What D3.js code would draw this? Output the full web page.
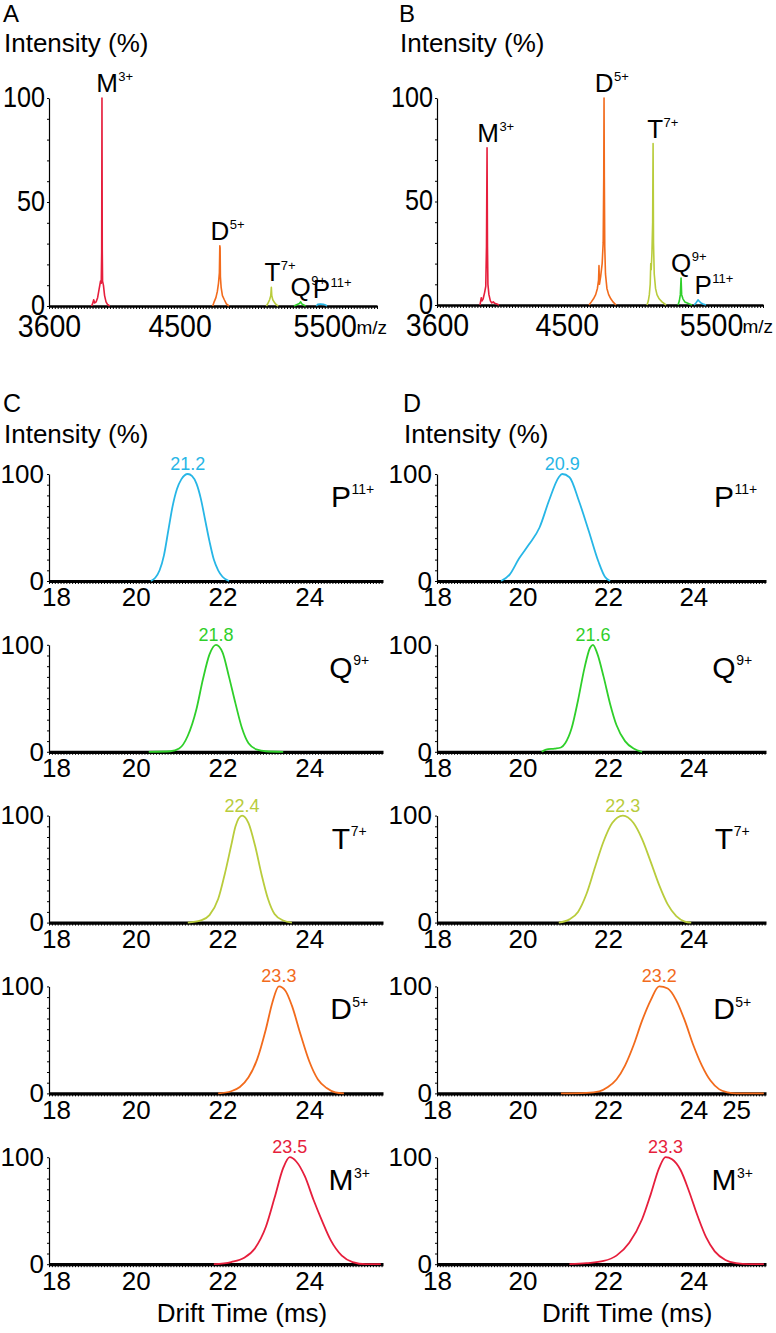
<!DOCTYPE html>
<html>
<head>
<meta charset="utf-8">
<script src="https://cdn.jsdelivr.net/npm/d3@7"></script>
<style>
body { margin: 0; background: #fff; }
text { font-family: "Liberation Sans", Arial, Helvetica, sans-serif; fill: #000; }
</style>
</head>
<body>
<script>
// ---- data ----
const mzTicks = [3600, 4500, 5500];
const mzIntTicks = [0, 50, 100];
const driftTicks = [18, 20, 22, 24];
const driftTicksWide = [18, 20, 22, 24, 25];
const driftIntTicks = [0, 100];

const species = ["M", "D", "T", "Q", "P"];
const charges = ["3+", "5+", "7+", "9+", "11+"];
const colors = ["#e61e3c", "#f26b1c", "#b9cc3c", "#2fcf2a", "#27b6e6"];

// panel A, mass spectrum [m/z, intensity %]
const msA_M = [[3893,0],[3900,1],[3908,3],[3915,1.5],[3925,2],[3935,4],[3945,8],[3955,12],[3960,11],[3963,26],[3965,100],[3967,27],[3969,12],[3975,10],[3983,5],[3993,2],[4003,0.8],[4018,0]];
const msA_D = [[4728,0],[4738,2],[4750,4],[4760,7],[4768,11],[4774,16],[4777,29],[4779,28],[4781,14],[4786,9],[4795,5],[4808,3],[4822,1],[4840,0]];
const msA_T = [[5098,0],[5110,1.5],[5120,3],[5128,5],[5132,9],[5135,5],[5142,3],[5155,1.5],[5168,0.5],[5180,0]];
const msA_Q = [[5288,0],[5310,0.7],[5325,1.2],[5334,2],[5342,1],[5355,0.5],[5368,0]];
const msA_P = [[5442,0],[5452,0.8],[5470,1],[5490,0.8],[5505,0.5],[5515,0]];

// panel B
const msB_M = [[3898,0],[3903,2],[3907,3.5],[3912,2],[3920,3],[3930,6],[3938,9],[3943,28],[3947,76],[3950,28],[3953,10],[3960,5],[3970,2],[3980,1],[3990,1.5],[4000,0.8],[4015,0.5],[4030,0]];
const msB_D = [[4654,0],[4670,1.5],[4685,3],[4700,5],[4712,8],[4720,12],[4723,19],[4726,10],[4735,14],[4745,20],[4752,30],[4756,62],[4758,100],[4760,62],[4763,28],[4768,15],[4778,8],[4790,5],[4805,3],[4820,1.5],[4841,0]];
const msB_T = [[5056,0],[5065,2],[5072,5],[5078,10],[5082,20],[5085,17],[5090,25],[5095,40],[5098,78],[5101,30],[5106,15],[5115,8],[5125,5],[5140,3],[5160,1.5],[5188,0]];
const msB_Q = [[5271,0],[5280,2],[5287,5],[5292,13],[5296,5],[5305,3],[5318,1.5],[5335,1],[5350,0.5],[5368,0]];
const msB_P = [[5382,0],[5395,1],[5405,2],[5410,2.5],[5418,1.8],[5430,1],[5445,0.5],[5465,0]];

// panel C, arrival time distributions [drift time ms, intensity %]
const driftC_P = [[20.35,0],[20.45,3],[20.55,10],[20.65,24],[20.75,47],[20.85,70],[20.95,86],[21.05,95],[21.2,100],[21.3,98],[21.4,91],[21.5,77],[21.6,57],[21.7,37],[21.8,20],[21.9,10],[22.0,4],[22.15,0]];
const driftC_Q = [[20.3,0],[20.8,0.5],[21.0,3],[21.2,15],[21.4,40],[21.55,68],[21.7,91],[21.85,100],[22.0,93],[22.15,70],[22.3,45],[22.45,22],[22.6,8],[22.8,2],[23.0,0.5],[23.4,0]];
const driftC_T = [[21.2,0],[21.5,2],[21.7,7],[21.9,22],[22.05,45],[22.2,72],[22.3,90],[22.45,100],[22.6,93],[22.75,72],[22.9,45],[23.05,22],[23.2,8],[23.4,2],[23.6,0]];
const driftC_D = [[21.9,0],[22.2,2],[22.4,6],[22.6,15],[22.8,32],[23.0,60],[23.15,85],[23.3,100],[23.45,96],[23.6,82],[23.8,55],[24.0,30],[24.2,13],[24.4,5],[24.6,1],[24.8,0]];
const driftC_M = [[21.8,0],[22.2,2],[22.5,6],[22.75,15],[23.0,35],[23.2,62],[23.4,90],[23.55,100],[23.7,96],[23.9,82],[24.1,60],[24.3,40],[24.5,22],[24.75,8],[25.0,2],[25.3,0],[25.65,0]];

// panel D
const driftD_P = [[19.5,0],[19.7,6],[19.92,21],[20.15,34],[20.4,50],[20.62,75],[20.85,97],[20.93,100],[21.1,97],[21.32,75],[21.55,47],[21.78,18],[21.93,4],[22.05,0]];
const driftD_Q = [[20.45,0],[20.55,2],[20.75,3],[20.9,4],[21.0,8],[21.15,22],[21.3,48],[21.45,78],[21.58,97],[21.65,100],[21.75,92],[21.9,70],[22.05,45],[22.2,25],[22.4,10],[22.6,3],[22.8,0]];
const driftD_T = [[20.85,0],[21.1,3],[21.3,10],[21.5,27],[21.7,52],[21.9,76],[22.1,93],[22.35,100],[22.6,93],[22.8,78],[23.0,57],[23.2,35],[23.4,17],[23.6,6],[23.8,1],[23.95,0]];
const driftD_D = [[20.9,0],[21.5,0.5],[21.8,2],[22.0,6],[22.2,13],[22.4,26],[22.6,45],[22.8,68],[23.0,87],[23.2,100],[23.4,98],[23.6,87],[23.8,68],[24.0,45],[24.2,26],[24.4,12],[24.6,4],[24.8,1],[25.0,0],[25.65,0]];
const driftD_M = [[21.1,0],[21.5,1],[21.9,3],[22.2,8],[22.5,20],[22.8,42],[23.0,65],[23.2,90],[23.35,100],[23.5,98],[23.7,88],[23.9,68],[24.1,45],[24.3,25],[24.5,12],[24.75,4],[25.0,1],[25.3,0],[25.65,0]];

const apexC = ["23.5", "23.3", "22.4", "21.8", "21.2"];
const apexD = ["23.3", "23.2", "22.3", "21.6", "20.9"];

// ---- drawing ----
const width = 776, height = 1333;
const svg = d3.select('body').append('svg')
    .attr('width', width)
    .attr('height', height)
    .attr('viewBox', [0, 0, width, height]);

const fmt = d3.format('d');

// the figure's numerals are narrow and tall: squeeze them sideways
function squeeze(sel, k) {
    sel.each(function () {
        const L = this.getComputedTextLength();
        d3.select(this).attr('textLength', L * k).attr('lengthAdjust', 'spacingAndGlyphs');
    });
}

function ionLabel(g, cx, baseline, letter, charge, big, small) {
    const t = g.append('text')
        .attr('x', cx).attr('y', baseline)
        .attr('text-anchor', 'middle')
        .style('font-size', big + 'px')
        .text(letter);
    const w = t.node().getComputedTextLength();
    g.append('text')
        .attr('x', cx + w / 2 + 0.5)
        .attr('y', baseline - big * 0.42)
        .style('font-size', small + 'px')
        .text(charge);
}

function spectrumPanel(opts) {
    const g = svg.append('g');
    const x = d3.scaleLinear().domain([3600, 5860]).range([opts.left, opts.right]);
    const y = d3.scaleLinear().domain([0, 100]).range([opts.bottom, opts.top]);

    g.append('text').attr('x', opts.tagX).attr('y', 22)
        .style('font-size', '24px').text(opts.tag);
    g.append('text').attr('x', opts.tagX + 1).attr('y', 52)
        .style('font-size', '26px').text('Intensity (%)');

    // y axis: minor ticks + labels
    const ya = g.append('g').attr('transform', `translate(${opts.left},0)`)
        .call(d3.axisLeft(y).tickValues(d3.range(0, 101, 10)).tickSize(2).tickSizeOuter(0).tickFormat(''));
    ya.select('.domain').attr('stroke-width', 1.2);
    const yl = g.append('g').attr('transform', `translate(${opts.left},0)`)
        .call(d3.axisLeft(y).tickValues(mzIntTicks).tickSize(0).tickPadding(4).tickFormat(fmt))
        .call(s => s.select('.domain').remove())
        .selectAll('text').style('font-size', '30px').attr('fill', '#000').attr('dy', '0.27em');
    squeeze(yl, 0.84);

    // x axis: thick baseline with dense minor ticks
    const xa = g.append('g').attr('transform', `translate(0,${opts.bottom})`)
        .call(d3.axisBottom(x).tickValues(d3.range(3600, 5861, 20)).tickSize(3).tickSizeOuter(0).tickFormat(''));
    xa.select('.domain').attr('stroke-width', 2.6);
    const xl = g.append('g').attr('transform', `translate(0,${opts.bottom})`)
        .call(d3.axisBottom(x).tickValues(mzTicks).tickSize(0).tickPadding(9).tickFormat(fmt))
        .call(s => s.select('.domain').remove())
        .selectAll('text').style('font-size', '31px').attr('fill', '#000');
    squeeze(xl, 0.92);
    g.append('text').attr('x', opts.right + 10).attr('y', opts.bottom + 28)
        .attr('text-anchor', 'end').style('font-size', '19px').text('m/z');

    const line = d3.line().x(d => x(d[0])).y(d => y(d[1]));
    opts.traces.forEach((tr, i) => {
        g.append('path').datum(tr)
            .attr('fill', 'none')
            .attr('stroke', colors[i])
            .attr('stroke-width', 1.6)
            .attr('stroke-linejoin', 'round')
            .attr('d', line);
        const apex = tr.reduce((a, b) => (b[1] > a[1] ? b : a));
        const base = Math.min(y(apex[1]) - 6, opts.bottom - 8);
        ionLabel(g, x(apex[0]) + (opts.shift[i] || 0), base, species[i], charges[i], 26, 13);
    });
}

spectrumPanel({
    tag: 'A', tagX: 3, left: 49, right: 377, top: 98, bottom: 306,
    traces: [msA_M, msA_D, msA_T, msA_Q, msA_P],
    shift: [5, 0, 1, 0, 1]
});
spectrumPanel({
    tag: 'B', tagX: 399, left: 437, right: 763, top: 98, bottom: 305,
    traces: [msB_M, msB_D, msB_T, msB_Q, msB_P],
    shift: [1, 0, 2, 0, 5]
});

// drift time columns; rows top to bottom P, Q, T, D, M
const rowOrder = [4, 3, 2, 1, 0];

function driftColumn(opts) {
    const g = svg.append('g');
    g.append('text').attr('x', opts.tagX).attr('y', 412)
        .style('font-size', '25px').text(opts.tag);
    g.append('text').attr('x', opts.tagX + 1).attr('y', 443)
        .style('font-size', '26px').text('Intensity (%)');

    const x = d3.scaleLinear().domain([18, 25.7]).range([opts.left, opts.right]);
    const line = d3.line().x(d => x(d[0])).y(d => d[1]).curve(d3.curveMonotoneX);

    rowOrder.forEach((sp, r) => {
        const top = 474 + r * 170.8;
        const bottom = top + 107;
        const y = d3.scaleLinear().domain([0, 100]).range([bottom, top]);
        const row = g.append('g');

        const ya = row.append('g').attr('transform', `translate(${opts.left},0)`)
            .call(d3.axisLeft(y).tickValues(d3.range(0, 101, 10)).tickSize(2).tickSizeOuter(0).tickFormat(''));
        ya.select('.domain').attr('stroke-width', 1.2);
        row.append('g').attr('transform', `translate(${opts.left},0)`)
            .call(d3.axisLeft(y).tickValues(driftIntTicks).tickSize(0).tickPadding(5))
            .call(s => s.select('.domain').remove())
            .selectAll('text').style('font-size', '26px').attr('fill', '#000');

        const xa = row.append('g').attr('transform', `translate(0,${bottom})`)
            .call(d3.axisBottom(x).tickValues(d3.range(0, 116).map(k => 18 + k / 15)).tickSize(3).tickSizeOuter(0).tickFormat(''));
        xa.select('.domain').attr('stroke-width', 3.2);
        const ticks = (opts.wideRow === r) ? driftTicksWide : driftTicks;
        const xl = row.append('g').attr('transform', `translate(0,${bottom})`)
            .call(d3.axisBottom(x).tickValues(ticks).tickSize(0).tickPadding(7))
            .call(s => s.select('.domain').remove());
        xl.selectAll('text').style('font-size', '26px').attr('fill', '#000');
        // first label sits clear of the "0" on the left column
        xl.selectAll('.tick').filter(d => d === 18).select('text').attr('dx', opts.firstShift);

        const tr = opts.traces[sp];
        row.append('path').datum(tr.map(d => [d[0], y(d[1])]))
            .attr('fill', 'none')
            .attr('stroke', colors[sp])
            .attr('stroke-width', 1.8)
            .attr('d', line);

        const apex = tr.reduce((a, b) => (b[1] > a[1] ? b : a));
        row.append('text')
            .attr('x', x(apex[0])).attr('y', top - 4)
            .attr('text-anchor', 'middle')
            .style('font-size', '18px')
            .style('fill', colors[sp])
            .text(opts.apex[sp]);

        ionLabel(row, opts.right - 42, top + 33, species[sp], charges[sp], 30, 14);
    });

    g.append('text')
        .attr('x', x(22.45)).attr('y', 474 + 4 * 170.8 + 107 + 58)
        .attr('text-anchor', 'middle')
        .style('font-size', '26px')
        .text('Drift Time (ms)');
}

driftColumn({
    tag: 'C', tagX: 3, left: 49, right: 383,
    traces: [driftC_M, driftC_D, driftC_T, driftC_Q, driftC_P],
    apex: apexC, wideRow: -1, firstShift: 7
});
driftColumn({
    tag: 'D', tagX: 403, left: 437, right: 766,
    traces: [driftD_M, driftD_D, driftD_T, driftD_Q, driftD_P],
    apex: apexD, wideRow: 3, firstShift: 0
});
</script>
</body>
</html>
